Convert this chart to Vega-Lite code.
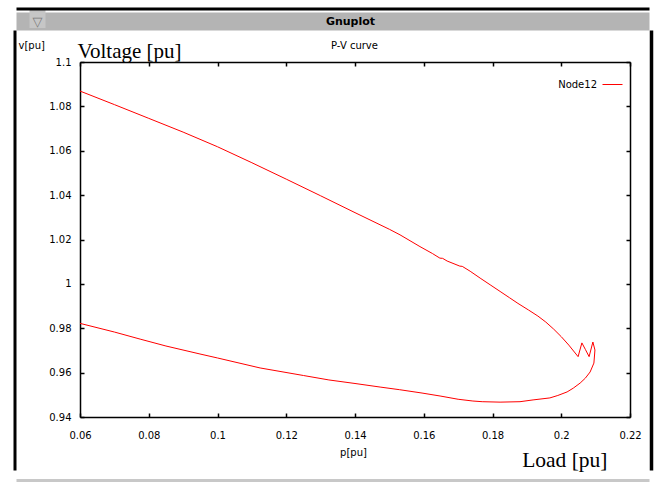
{
  "$schema": "https://vega.github.io/schema/vega-lite/v6.json",
  "width": 633,
  "height": 440,
  "autosize": {"type": "none"},
  "padding": {"left": 16, "top": 30, "right": 13, "bottom": 13},
  "background": "white",
  "data": {"values": [
    {"i": 1, "p": 0.0600, "v": 1.0869, "s": "Node12"},
    {"i": 2, "p": 0.0700, "v": 1.0808, "s": "Node12"},
    {"i": 3, "p": 0.0800, "v": 1.0746, "s": "Node12"},
    {"i": 4, "p": 0.0900, "v": 1.0684, "s": "Node12"},
    {"i": 5, "p": 0.1000, "v": 1.0618, "s": "Node12"},
    {"i": 6, "p": 0.1100, "v": 1.0546, "s": "Node12"},
    {"i": 7, "p": 0.1200, "v": 1.0472, "s": "Node12"},
    {"i": 8, "p": 0.1300, "v": 1.0397, "s": "Node12"},
    {"i": 9, "p": 0.1400, "v": 1.0321, "s": "Node12"},
    {"i": 10, "p": 0.1500, "v": 1.0246, "s": "Node12"},
    {"i": 11, "p": 0.1531, "v": 1.0221, "s": "Node12"},
    {"i": 12, "p": 0.1589, "v": 1.0168, "s": "Node12"},
    {"i": 13, "p": 0.1625, "v": 1.0137, "s": "Node12"},
    {"i": 14, "p": 0.1647, "v": 1.0116, "s": "Node12"},
    {"i": 15, "p": 0.1655, "v": 1.0115, "s": "Node12"},
    {"i": 16, "p": 0.1668, "v": 1.0103, "s": "Node12"},
    {"i": 17, "p": 0.1705, "v": 1.0080, "s": "Node12"},
    {"i": 18, "p": 0.1712, "v": 1.0079, "s": "Node12"},
    {"i": 19, "p": 0.1735, "v": 1.0057, "s": "Node12"},
    {"i": 20, "p": 0.1764, "v": 1.0026, "s": "Node12"},
    {"i": 21, "p": 0.1793, "v": 0.9996, "s": "Node12"},
    {"i": 22, "p": 0.1822, "v": 0.9966, "s": "Node12"},
    {"i": 23, "p": 0.1850, "v": 0.9937, "s": "Node12"},
    {"i": 24, "p": 0.1874, "v": 0.9912, "s": "Node12"},
    {"i": 25, "p": 0.1905, "v": 0.9882, "s": "Node12"},
    {"i": 26, "p": 0.1932, "v": 0.9855, "s": "Node12"},
    {"i": 27, "p": 0.1955, "v": 0.9828, "s": "Node12"},
    {"i": 28, "p": 0.1978, "v": 0.9796, "s": "Node12"},
    {"i": 29, "p": 0.2000, "v": 0.9762, "s": "Node12"},
    {"i": 30, "p": 0.2022, "v": 0.9724, "s": "Node12"},
    {"i": 31, "p": 0.2049, "v": 0.9672, "s": "Node12"},
    {"i": 32, "p": 0.2060, "v": 0.9734, "s": "Node12"},
    {"i": 33, "p": 0.2070, "v": 0.9705, "s": "Node12"},
    {"i": 34, "p": 0.2081, "v": 0.9672, "s": "Node12"},
    {"i": 35, "p": 0.2092, "v": 0.9738, "s": "Node12"},
    {"i": 36, "p": 0.2098, "v": 0.9702, "s": "Node12"},
    {"i": 37, "p": 0.2095, "v": 0.9643, "s": "Node12"},
    {"i": 38, "p": 0.2084, "v": 0.9603, "s": "Node12"},
    {"i": 39, "p": 0.2070, "v": 0.9575, "s": "Node12"},
    {"i": 40, "p": 0.2055, "v": 0.9553, "s": "Node12"},
    {"i": 41, "p": 0.2035, "v": 0.9530, "s": "Node12"},
    {"i": 42, "p": 0.2017, "v": 0.9513, "s": "Node12"},
    {"i": 43, "p": 0.1990, "v": 0.9497, "s": "Node12"},
    {"i": 44, "p": 0.1967, "v": 0.9486, "s": "Node12"},
    {"i": 45, "p": 0.1918, "v": 0.9477, "s": "Node12"},
    {"i": 46, "p": 0.1880, "v": 0.9469, "s": "Node12"},
    {"i": 47, "p": 0.1822, "v": 0.9467, "s": "Node12"},
    {"i": 48, "p": 0.1770, "v": 0.9469, "s": "Node12"},
    {"i": 49, "p": 0.1743, "v": 0.9472, "s": "Node12"},
    {"i": 50, "p": 0.1700, "v": 0.9480, "s": "Node12"},
    {"i": 51, "p": 0.1650, "v": 0.9494, "s": "Node12"},
    {"i": 52, "p": 0.1595, "v": 0.9508, "s": "Node12"},
    {"i": 53, "p": 0.1530, "v": 0.9523, "s": "Node12"},
    {"i": 54, "p": 0.1473, "v": 0.9535, "s": "Node12"},
    {"i": 55, "p": 0.1400, "v": 0.9551, "s": "Node12"},
    {"i": 56, "p": 0.1324, "v": 0.9567, "s": "Node12"},
    {"i": 57, "p": 0.1250, "v": 0.9587, "s": "Node12"},
    {"i": 58, "p": 0.1124, "v": 0.9621, "s": "Node12"},
    {"i": 59, "p": 0.1000, "v": 0.9666, "s": "Node12"},
    {"i": 60, "p": 0.0949, "v": 0.9684, "s": "Node12"},
    {"i": 61, "p": 0.0850, "v": 0.9720, "s": "Node12"},
    {"i": 62, "p": 0.0775, "v": 0.9751, "s": "Node12"},
    {"i": 63, "p": 0.0700, "v": 0.9783, "s": "Node12"},
    {"i": 64, "p": 0.0600, "v": 0.9822, "s": "Node12"}
  ]},
  "layer": [
    {
      "mark": {"type": "line", "strokeWidth": 1, "clip": false},
      "encoding": {
        "x": {"field": "p", "type": "quantitative",
          "scale": {"domain": [0.06, 0.22], "range": [64, 614], "nice": false, "zero": false},
          "axis": {"orient": "bottom", "offset": -53, "values": [0.06, 0.08, 0.1, 0.12, 0.14, 0.16, 0.18, 0.2, 0.22],
            "format": "~g", "tickSize": -4, "tickWidth": 1.5, "domainWidth": 1.5, "labelPadding": 17,
            "title": "p[pu]", "titleX": 337, "titleY": 35, "titleBaseline": "middle", "titleAlign": "center"}},
        "y": {"field": "v", "type": "quantitative",
          "scale": {"domain": [0.94, 1.1], "range": [387, 32], "nice": false, "zero": false},
          "axis": {"orient": "left", "offset": -64, "values": [0.94, 0.96, 0.98, 1, 1.02, 1.04, 1.06, 1.08, 1.1],
            "format": "~g", "tickSize": -4, "tickWidth": 1.5, "domainWidth": 1.5, "labelPadding": 13,
            "title": "v[pu]", "titleAngle": 0, "titleX": -62, "titleY": 15, "titleAlign": "left", "titleBaseline": "middle"}},
        "color": {"field": "s", "type": "nominal", "scale": {"range": ["#ff0000"]},
          "legend": {"orient": "none", "legendX": 586, "legendY": 44, "title": null, "symbolType": "stroke",
            "symbolSize": 400, "symbolStrokeWidth": 1, "labelAlign": "right", "labelOffset": -26,
            "labelFont": "DejaVu Sans", "labelFontSize": 10, "labelColor": "black", "padding": 0}},
        "order": {"field": "i"}
      }
    },
    {
      "mark": {"type": "point", "opacity": 0},
      "encoding": {
        "x": {"field": "p", "type": "quantitative",
          "scale": {"domain": [0.06, 0.22], "range": [64, 614], "nice": false, "zero": false},
          "axis": {"orient": "top", "offset": -32, "values": [0.06, 0.08, 0.1, 0.12, 0.14, 0.16, 0.18, 0.2, 0.22],
            "labels": false, "tickSize": -4, "tickWidth": 1.5, "domainWidth": 1.5,
            "title": "Voltage [pu]", "titleFont": "Liberation Serif", "titleFontSize": 21,
            "titleX": 61, "titleY": -5, "titleAlign": "left", "titleBaseline": "alphabetic"}},
        "y": {"field": "v", "type": "quantitative",
          "scale": {"domain": [0.94, 1.1], "range": [387, 32], "nice": false, "zero": false},
          "axis": {"orient": "right", "offset": -19, "values": [0.94, 0.96, 0.98, 1, 1.02, 1.04, 1.06, 1.08, 1.1],
            "labels": false, "tickSize": -4, "tickWidth": 1.5, "domainWidth": 1.5, "title": null}}
      }
    },
    {
      "mark": {"type": "point", "opacity": 0},
      "encoding": {
        "x": {"field": "p", "type": "quantitative", "scale": {"domain": [0, 1], "nice": false, "zero": false},
          "axis": {"orient": "top", "offset": 9, "domainColor": "#b4b4b4", "domainWidth": 18, "domainCap": "butt",
            "ticks": false, "labels": false,
            "title": "Gnuplot", "titleFont": "DejaVu Sans", "titleFontWeight": "bold", "titleFontSize": 11,
            "titleX": 334, "titleY": 0, "titleAlign": "center", "titleBaseline": "middle"}},
        "y": {"field": "v", "type": "quantitative", "scale": {"domain": [0, 1], "nice": false, "zero": false},
          "axis": {"orient": "left", "offset": 1.5, "domainColor": "black", "domainWidth": 3,
            "ticks": false, "labels": false, "title": null}}
      }
    },
    {
      "mark": {"type": "point", "opacity": 0},
      "encoding": {
        "x": {"field": "p", "type": "quantitative", "scale": {"domain": [0, 1], "nice": false, "zero": false},
          "axis": {"orient": "top", "offset": 21.5, "domainColor": "black", "domainWidth": 3,
            "values": [0.0332], "ticks": true, "tickSize": -19, "tickWidth": 16, "tickCap": "butt", "tickColor": "#c6c6c6",
            "labels": true, "labelExpr": "'▽'", "labelColor": "#7a7a7a", "labelFontSize": 13,
            "labelPadding": 6, "labelBaseline": "middle", "labelAlign": "center",
            "title": "P-V curve", "titleFontSize": 10, "titleX": 338, "titleY": 36.5,
            "titleAlign": "center", "titleBaseline": "middle"}},
        "y": {"field": "v", "type": "quantitative", "scale": {"domain": [0, 1], "nice": false, "zero": false},
          "axis": {"orient": "right", "offset": 2, "domainColor": "black", "domainWidth": 3.5,
            "ticks": false, "labels": false, "title": null}}
      }
    },
    {
      "mark": {"type": "point", "opacity": 0},
      "encoding": {
        "x": {"field": "p", "type": "quantitative", "scale": {"domain": [0, 1], "nice": false, "zero": false},
          "axis": {"orient": "bottom", "offset": 10, "domainColor": "#c8c8c8", "domainWidth": 3,
            "ticks": false, "labels": false,
            "title": "Load [pu]", "titleFont": "Liberation Serif", "titleFontSize": 21.5,
            "titleX": 591, "titleY": -13.5, "titleAlign": "right", "titleBaseline": "alphabetic"}},
        "y": {"field": "v", "type": "quantitative", "scale": {"domain": [0, 1], "nice": false, "zero": false},
          "axis": null}
      }
    }
  ],
  "resolve": {
    "scale": {"x": "independent", "y": "independent"},
    "axis": {"x": "independent", "y": "independent"}
  },
  "config": {
    "view": {"stroke": null},
    "axis": {
      "grid": false, "domainColor": "black", "tickColor": "black",
      "labelFont": "DejaVu Sans", "labelFontSize": 10, "labelColor": "black",
      "labelFlush": false, "labelOverlap": false, "labelBound": false,
      "titleFont": "DejaVu Sans", "titleFontSize": 10, "titleFontWeight": "normal", "titleColor": "black"
    }
  }
}
